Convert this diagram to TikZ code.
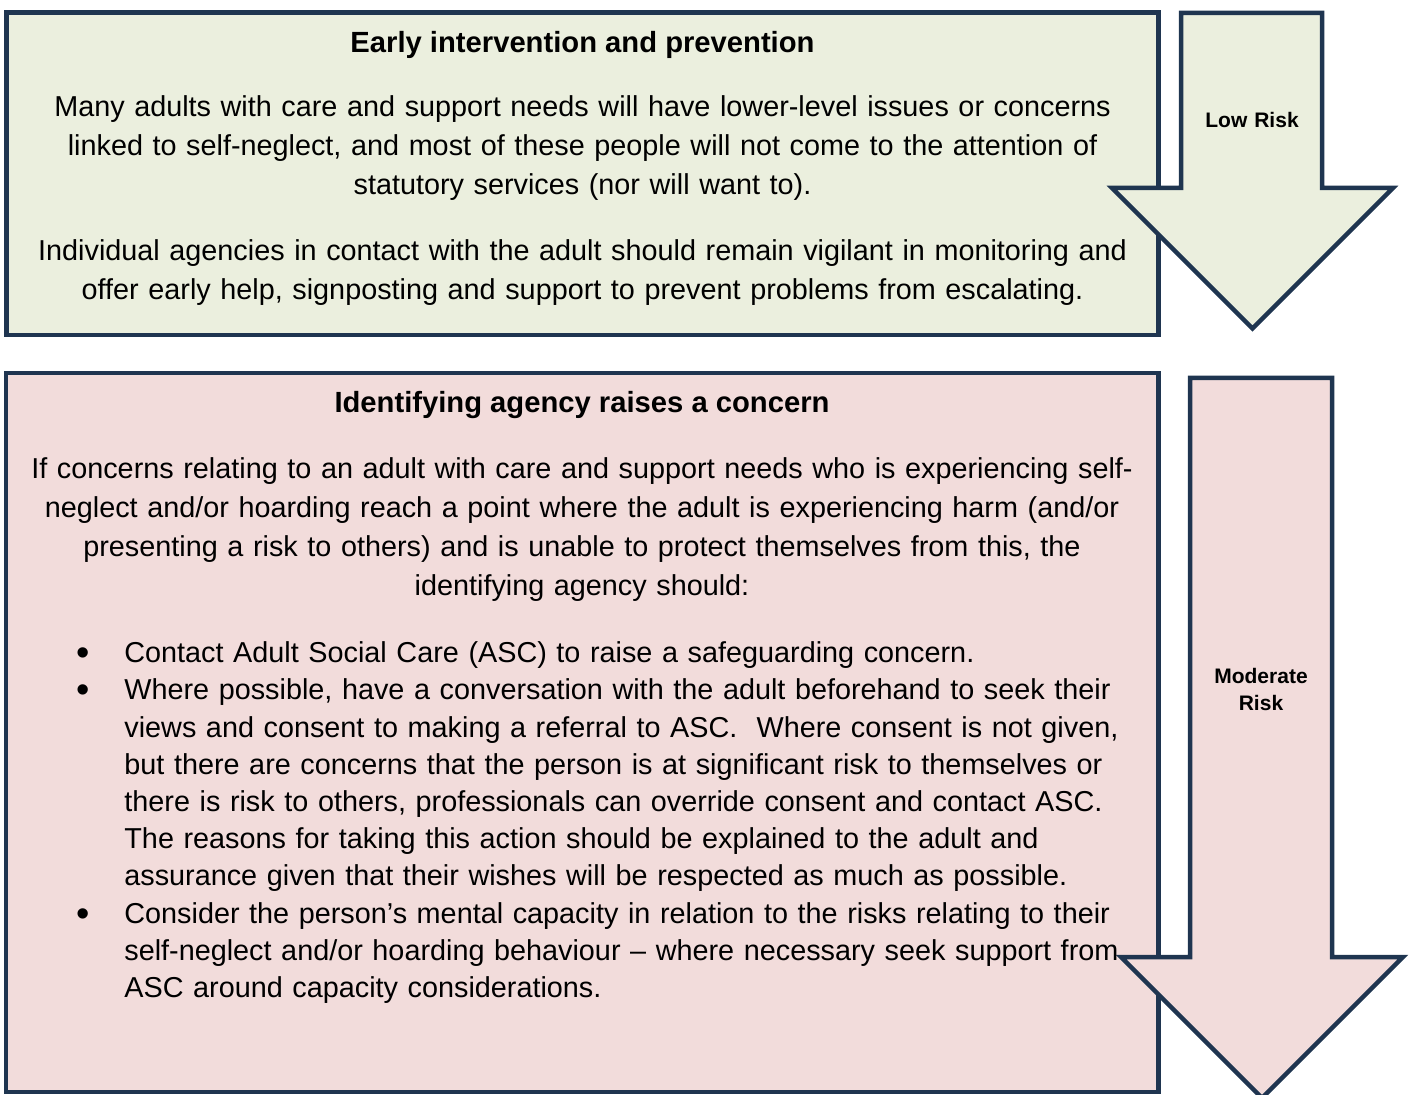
\documentclass[tikz,border=0pt]{standalone}
\usepackage{fontspec}
\setmainfont{Liberation Sans}
\usepackage{xcolor}

\definecolor{edgeblue}{RGB}{31,53,80}
\definecolor{lowfill}{RGB}{235,239,222}
\definecolor{modfill}{RGB}{242,220,219}

\tikzset{
  panel/.style={draw=edgeblue, line width=2.25pt, line join=miter},
  heading/.style={font=\bfseries\fontsize{14.6}{19.4}\selectfont, anchor=base, inner sep=0pt},
  body/.style={font=\fontsize{14.4}{19.4}\selectfont, text width=570pt, align=center, anchor=base, inner sep=0pt},
  itemtext/.style={font=\fontsize{14.4}{18.55}\selectfont, text width=520pt, align=left, anchor=base west, inner sep=0pt},
  dot/.style={font=\fontsize{19}{19}\selectfont, anchor=base, inner sep=0pt, yshift=-1.5pt},
  risk/.style={font=\bfseries\fontsize{10.5}{13.5}\selectfont, text width=60pt, align=center, anchor=base, inner sep=0pt}
}

\begin{document}
\begin{tikzpicture}[x=0.5pt, y=-0.5pt]
        \useasboundingbox (0,0) rectangle (1413,1095);
        \clip (0,0) rectangle (1413,1095);
        % the two panels
        \draw[panel, fill=lowfill] (6.5,12.5) rectangle (1158.5,335);
        \draw[panel, fill=modfill] (6,373) rectangle (1158.5,1092);
        % low risk arrow
        \coordinate (LA) at (1181, 13);
        \coordinate (LB) at (1322, 13);
        \coordinate (LC) at (1322, 188);
        \coordinate (LD) at (1393, 188);
        \coordinate (LT) at (1252.5, 328.5);
        \coordinate (LE) at (1112, 188);
        \coordinate (LF) at (1181, 188);
        \draw[panel, fill=lowfill] (LA) -- (LB) -- (LC) -- (LD) -- (LT) -- (LE) -- (LF) -- cycle;
        % moderate risk arrow
        \coordinate (MA) at (1190, 378);
        \coordinate (MB) at (1332, 378);
        \coordinate (MC) at (1332, 957);
        \coordinate (MD) at (1403, 957);
        \coordinate (MT) at (1262, 1098);
        \coordinate (ME) at (1121, 957);
        \coordinate (MF) at (1190, 957);
        \draw[panel, fill=modfill] (MA) -- (MB) -- (MC) -- (MD) -- (MT) -- (ME) -- (MF) -- cycle;
        % texts
        \node[risk] (lowrisk) at (1252, 128) {Low Risk};
        \node[risk] (modrisk) at (1261, 683) {Moderate\\Risk};
        \node[heading] (lowtitle) at (582.5, 53) {Early intervention and prevention};
        \node[body] (lowtext) at (582.5, 117) {Many adults with care and support needs will have lower-level issues or concerns\\linked to self-neglect, and most of these people will not come to the attention of\\statutory services (nor will want to).};
        \node[body] (lowhelp) at (582.5, 261) {Individual agencies in contact with the adult should remain vigilant in monitoring and\\offer early help, signposting and support to prevent problems from escalating.};
        \node[heading] (modtitle) at (582, 413) {Identifying agency raises a concern};
        \node[body] (modtext) at (582, 479) {If concerns relating to an adult with care and support needs who is experiencing self-\\neglect and/or hoarding reach a point where the adult is experiencing harm (and/or\\presenting a risk to others) and is unable to protect themselves from this, the\\identifying agency should:};
        \node[dot] (dotone) at (83, 663) {\textbullet};
        \node[itemtext] (contact) at (124, 663) {Contact Adult Social Care (ASC) to raise a safeguarding concern.};
        \node[dot] (dottwo) at (83, 700) {\textbullet};
        \node[itemtext] (talk) at (124, 700) {Where possible, have a conversation with the adult beforehand to seek their\\views and consent to making a referral to ASC.~ Where consent is not given,\\but there are concerns that the person is at significant risk to themselves or\\there is risk to others, professionals can override consent and contact ASC.\\The reasons for taking this action should be explained to the adult and\\assurance given that their wishes will be respected as much as possible.};
        \node[dot] (dotthree) at (83, 923) {\textbullet};
        \node[itemtext] (capacity) at (124, 923) {Consider the person’s mental capacity in relation to the risks relating to their\\self-neglect and/or hoarding behaviour – where necessary seek support from\\ASC around capacity considerations.};
    \end{tikzpicture}
\end{document}
